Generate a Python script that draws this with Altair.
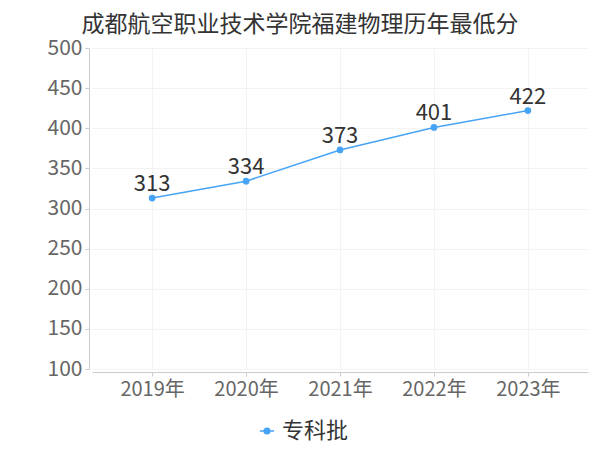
import altair as alt
import pandas as pd

years = ["2019年", "2020年", "2021年", "2022年", "2023年"]
scores = [313, 334, 373, 401, 422]
series = ["专科批"] * 5
title_text = "成都航空职业技术学院福建物理历年最低分"

df = pd.DataFrame({"year": years, "score": scores, "series": series})

FONT = "Noto Sans CJK SC"
BLUE = "#47a3f5"

x = alt.X("year:N", sort=years, title=None,
          scale=alt.Scale(type="point", padding=0.64),
          axis=alt.Axis(labelAngle=0, labelFontSize=20, labelColor="#666666",
                        labelFont=FONT, labelPadding=3, tickSize=4, tickColor="#cccccc",
                        domainColor="#cccccc", gridColor="#f3f3f3", grid=True, offset=3))
y = alt.Y("score:Q", title=None,
          scale=alt.Scale(domain=[100, 500], nice=False, zero=False),
          axis=alt.Axis(values=[100, 150, 200, 250, 300, 350, 400, 450, 500],
                        labelFontSize=21, labelColor="#666666", labelFont=FONT,
                        labelPadding=3, tickSize=4, tickColor="#cccccc",
                        domainColor="#cccccc", gridColor="#f3f3f3", grid=True, offset=3))

color = alt.Color("series:N", scale=alt.Scale(range=[BLUE]),
                  legend=alt.Legend(title=None, orient="none", legendX=164, legendY=372,
                                    labelFontSize=22, labelColor="#333333", labelFont=FONT,
                                    symbolType="M-1,0H1M-0.4,0A0.4,0.4 0 1,1 0.4,0A0.4,0.4 0 1,1 -0.4,0",
                                    symbolSize=200, symbolStrokeWidth=1.5,
                                    symbolFillColor=BLUE, symbolStrokeColor=BLUE))

base = alt.Chart(df)
line = base.mark_line(strokeWidth=1.5, point=alt.OverlayMarkDef(size=45, filled=True, color=BLUE)).encode(
    x=x, y=y, color=color)
labels = base.mark_text(dy=-14, fontSize=22, color="#333333", font=FONT).encode(
    x=alt.X("year:N", sort=years), y="score:Q", text="score:Q")

chart = alt.layer(line, labels).properties(
    width=496, height=321,
    title=alt.TitleParams(title_text, fontSize=23, color="#333333", font=FONT,
                          fontWeight="normal", anchor="middle", dx=-40, offset=0),
    autosize=alt.AutoSizeParams(type="none"),
    padding={"left": 84, "top": 40, "right": 4, "bottom": 80},
).configure_view(stroke=None)

chart.save("out.html", embed_options={"renderer": "svg", "actions": False})
